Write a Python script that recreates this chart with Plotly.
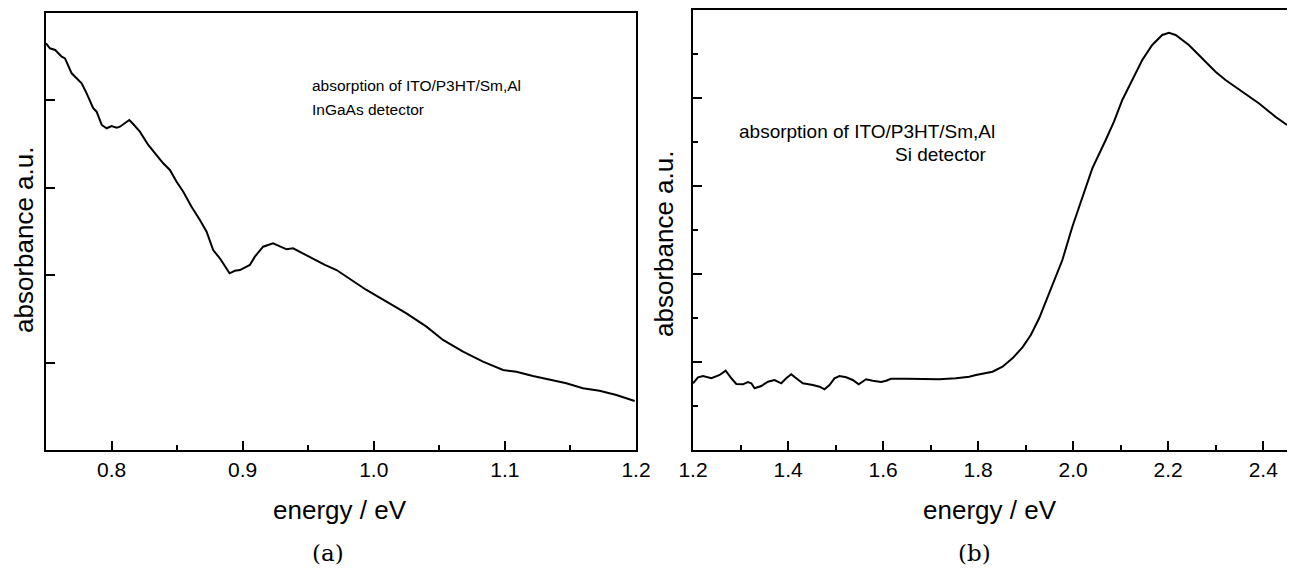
import plotly.graph_objects as go

# ---- data: panel (a) InGaAs detector ----
energy_a = [0.750, 0.753, 0.757, 0.762, 0.7645, 0.7696, 0.7772, 0.781, 0.786, 0.7886,
            0.7925, 0.7963, 0.800, 0.8039, 0.8064, 0.8102, 0.8135, 0.8165, 0.8216, 0.828,
            0.8331, 0.8394, 0.8445, 0.8496, 0.8547, 0.861, 0.8674, 0.8725, 0.8775, 0.8826,
            0.890, 0.894, 0.8979, 0.903, 0.9055, 0.9093, 0.9156, 0.9232, 0.9284, 0.9335,
            0.9385, 0.9449, 0.9512, 0.9563, 0.9627, 0.9716, 0.9944, 1.0097, 1.0249, 1.0402,
            1.0528, 1.0681, 1.0833, 1.0986, 1.1088, 1.1214, 1.1341, 1.1469, 1.1595, 1.1722,
            1.185, 1.199]
absorb_a = [4.653, 4.596, 4.577, 4.500, 4.481, 4.310, 4.196, 4.081, 3.910, 3.871,
            3.719, 3.681, 3.707, 3.688, 3.699, 3.745, 3.776, 3.730, 3.642, 3.490,
            3.395, 3.280, 3.204, 3.070, 2.955, 2.784, 2.632, 2.498, 2.288, 2.193,
            2.022, 2.051, 2.059, 2.097, 2.117, 2.212, 2.326, 2.365, 2.334, 2.296,
            2.308, 2.257, 2.212, 2.174, 2.117, 2.059, 1.831, 1.697, 1.564, 1.411,
            1.259, 1.125, 1.011, 0.915, 0.896, 0.847, 0.801, 0.763, 0.706, 0.678,
            0.629, 0.561]

# ---- data: panel (b) Si detector ----
energy_b = [1.200, 1.2105, 1.221, 1.2387, 1.2561, 1.2687, 1.2807, 1.2912, 1.305, 1.3155,
            1.3227, 1.3296, 1.3437, 1.3576, 1.3716, 1.3857, 1.3962, 1.4067, 1.4172, 1.4311,
            1.4521, 1.4662, 1.4767, 1.4872, 1.4977, 1.5082, 1.5223, 1.5361, 1.5487, 1.5538,
            1.5643, 1.5782, 1.5958, 1.6063, 1.6168, 1.6483, 1.6832, 1.7183, 1.7534, 1.7813,
            1.7954, 1.8303, 1.8513, 1.8723, 1.8933, 1.9109, 1.9284, 1.9424, 1.9563, 1.9773,
            1.9983, 2.0193, 2.0403, 2.0685, 2.0859, 2.1034, 2.1244, 2.1454, 2.1664, 2.1874,
            2.2015, 2.2156, 2.2435, 2.2714, 2.2996, 2.3206, 2.3555, 2.3906, 2.4256, 2.450]
absorb_b = [1.516, 1.652, 1.682, 1.630, 1.705, 1.802, 1.630, 1.500, 1.493, 1.545,
            1.516, 1.402, 1.455, 1.552, 1.591, 1.516, 1.630, 1.720, 1.630, 1.516,
            1.477, 1.439, 1.380, 1.477, 1.630, 1.682, 1.652, 1.591, 1.493, 1.530,
            1.607, 1.575, 1.545, 1.575, 1.620, 1.620, 1.607, 1.607, 1.630, 1.666,
            1.705, 1.780, 1.893, 2.084, 2.334, 2.614, 2.993, 3.370, 3.750, 4.318,
            5.075, 5.757, 6.402, 7.045, 7.461, 7.955, 8.409, 8.864, 9.205, 9.432,
            9.484, 9.432, 9.205, 8.902, 8.598, 8.409, 8.143, 7.880, 7.575, 7.386]

# page body has an 8px margin, so the figure starts at (8, 8) in the window
OFF = 8
W, H = 1295 - 2 * OFF, 568 - OFF
SANS = "Liberation Sans, Arial, Helvetica, sans-serif"
SERIF = "DejaVu Serif, Liberation Serif, serif"

def px(x):
    return (x - OFF) / W

def py(y):
    return 1 - (y - OFF) / H

fig = go.Figure()
fig.add_trace(go.Scatter(x=energy_a, y=absorb_a, mode="lines", xaxis="x", yaxis="y",
                         line=dict(color="black", width=2), showlegend=False))
fig.add_trace(go.Scatter(x=energy_b, y=absorb_b, mode="lines", xaxis="x2", yaxis="y2",
                         line=dict(color="black", width=2), showlegend=False))

axis_common = dict(showline=True, linecolor="black", linewidth=2, mirror=True,
                   ticks="inside", tickcolor="black", tickwidth=1.5, ticklen=9,
                   showgrid=False, zeroline=False, automargin=False,
                   tickfont=dict(family=SANS, size=21, color="black"))

fig.update_layout(
    template="none",
    width=W, height=H,
    margin=dict(l=0, r=0, t=0, b=0, pad=0),
    paper_bgcolor="white", plot_bgcolor="white",
    xaxis=dict(domain=[px(46), px(636)], range=[0.75, 1.2], tick0=0.8, dtick=0.1,
               tickformat=".1f", anchor="y",
               minor=dict(ticks="inside", dtick=0.05, tick0=0.75, ticklen=5,
                          tickwidth=1.5, tickcolor="black"),
               **axis_common),
    yaxis=dict(domain=[py(450), py(13)], range=[0, 5], dtick=1, showticklabels=False,
               anchor="x", **axis_common),
    xaxis2=dict(domain=[px(693), px(1287)], range=[1.2, 2.45], tick0=1.2, dtick=0.2,
                tickformat=".1f", anchor="y2",
                minor=dict(ticks="inside", dtick=0.1, tick0=1.2, ticklen=5,
                           tickwidth=1.5, tickcolor="black"),
                **axis_common),
    yaxis2=dict(domain=[py(450), py(10)], range=[0, 10], dtick=2, showticklabels=False,
                anchor="x2",
                minor=dict(ticks="inside", dtick=1, ticklen=5, tickwidth=1.5,
                           tickcolor="black"),
                **axis_common),
)

def note(text, x, y, size, family=SANS, xanchor="center", angle=0):
    fig.add_annotation(text=text, x=px(x), y=py(y), xref="paper", yref="paper",
                       showarrow=False, xanchor=xanchor, yanchor="middle",
                       textangle=angle, font=dict(family=family, size=size, color="black"))

# axis titles
note("energy / eV", 340, 510, 26)
note("energy / eV", 990, 510, 26)
note("absorbance a.u.", 24, 240, 26, angle=-90)
note("absorbance a.u.", 664, 244, 26, angle=-90)
# in-plot labels
note("absorption of ITO/P3HT/Sm,Al", 310, 86, 15.5, xanchor="left")
note("InGaAs detector", 310, 109, 15.5, xanchor="left")
note("absorption of ITO/P3HT/Sm,Al", 737, 131, 19, xanchor="left")
note("Si detector", 893, 155, 19, xanchor="left")
# captions
note("(a)", 328, 553, 23, family=SERIF)
note("(b)", 975, 553, 23, family=SERIF)

fig.write_html("out.html")
